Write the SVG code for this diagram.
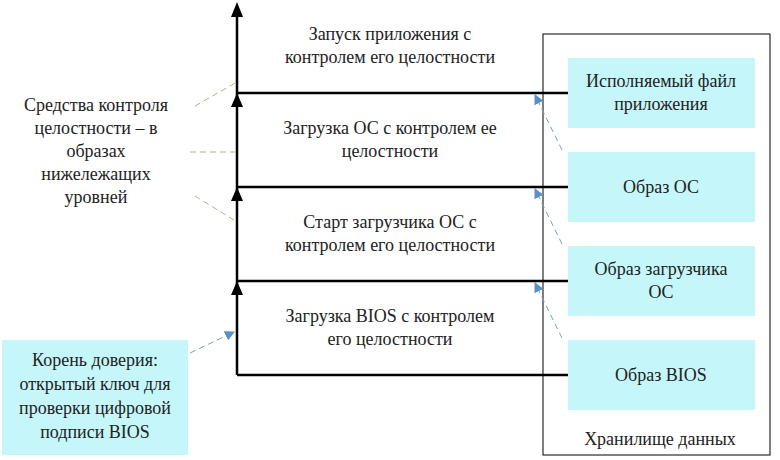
<svg xmlns="http://www.w3.org/2000/svg" width="780" height="460" viewBox="0 0 780 460">
<style>
text{font-family:"Liberation Serif","DejaVu Serif","Times New Roman",serif;font-size:18px;fill:#222;text-anchor:middle}
.blk{stroke:#000;stroke-width:2.5;fill:none}
.head{fill:#000}
.cy{fill:#c5f7fa}
.tan{stroke:#b5b08f;stroke-width:1;stroke-dasharray:6 4;fill:none}
.bl{stroke:#7f9fb5;stroke-width:1;stroke-dasharray:6 4;fill:none}
</style>
<defs>
<marker id="ab" markerWidth="10" markerHeight="10" refX="9" refY="5" orient="auto" markerUnits="userSpaceOnUse" viewBox="0 0 10 10"><path d="M0,0 L10,5 L0,10Z" fill="#5b8fc7"/></marker>
</defs>
<g id="storage"><rect x="543" y="34" width="227" height="421" fill="#fff" stroke="#000" stroke-width="1"/><text x="660" y="445">Хранилище данных</text></g>
<g id="connectors">
<path class="blk" d="M237,375 V14 M237,93 H568 M237,187 H568 M237,281 H568 M237,375 H568"/>
<path class="head" d="M231,295 L237,281 L243,295Z M231,201 L237,187 L243,201Z M231,107 L237,93 L243,107Z M231,17 L237,2 L243,17Z"/>
<path class="tan" d="M195,106 L237,82 M190,152 H237 M195,196 L237,222"/>
<path class="bl" d="M562,150 L535,95" marker-end="url(#ab)"/>
<path class="bl" d="M562,244 L535,189" marker-end="url(#ab)"/>
<path class="bl" d="M562,338 L535,283" marker-end="url(#ab)"/>
<path class="bl" d="M190,353 L234,332" marker-end="url(#ab)"/>
</g>
<g id="s4"><text x="390" y="40">Запуск приложения с</text><text x="390" y="63">контролем его целостности</text></g>
<g id="s3"><text x="390" y="134">Загрузка ОС с контролем ее</text><text x="390" y="157">целостности</text></g>
<g id="s2"><text x="390" y="228">Старт загрузчика ОС с</text><text x="390" y="251">контролем его целостности</text></g>
<g id="s1"><text x="390" y="322">Загрузка BIOS с контролем</text><text x="390" y="345">его целостности</text></g>
<g id="app"><rect class="cy" x="568" y="58" width="187" height="70"/><text x="661" y="87">Исполняемый файл</text><text x="661" y="110">приложения</text></g>
<g id="os"><rect class="cy" x="568" y="152" width="187" height="70"/><text x="661" y="193">Образ ОС</text></g>
<g id="loader"><rect class="cy" x="568" y="246" width="187" height="70"/><text x="661" y="275">Образ загрузчика</text><text x="661" y="298">ОС</text></g>
<g id="bios"><rect class="cy" x="568" y="340" width="187" height="70"/><text x="661" y="381">Образ BIOS</text></g>
<g id="tools"><text x="96" y="111">Средства контроля</text><text x="96" y="134">целостности – в</text><text x="96" y="157">образах</text><text x="96" y="180">нижележащих</text><text x="96" y="203">уровней</text></g>
<g id="root"><rect class="cy" x="2" y="340" width="186" height="115"/><text x="95" y="366">Корень доверия:</text><text x="95" y="390">открытый ключ для</text><text x="95" y="414">проверки цифровой</text><text x="95" y="438">подписи BIOS</text></g>
</svg>
